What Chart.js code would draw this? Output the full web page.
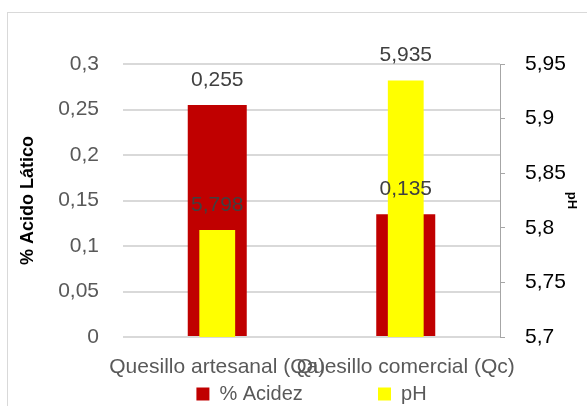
<!DOCTYPE html>
<html>
<head>
<meta charset="utf-8">
<script src="https://cdn.jsdelivr.net/npm/chart.js@4.4.1/dist/chart.umd.min.js"></script>
<style>
  html, body { margin: 0; padding: 0; background: #fff; }
</style>
</head>
<body>
<canvas id="grafico" width="587" height="406"></canvas>
<script>
const categorias = ['Quesillo artesanal (Qa)', 'Quesillo comercial (Qc)'];
const acidez = [0.255, 0.135]; // % ácido láctico
const ph = [5.798, 5.935];
const ticksAcidez = [0, 0.05, 0.1, 0.15, 0.2, 0.25, 0.3];
const ticksPh = [5.7, 5.75, 5.8, 5.85, 5.9, 5.95];

const FONTE = '"Liberation Sans", Arial, sans-serif';
const coma = v => String(Number(v.toFixed(3))).replace('.', ',');

// borde exterior del gráfico
const borde = {
  id: 'borde',
  beforeDraw(chart) {
    const ctx = chart.ctx;
    ctx.save();
    ctx.strokeStyle = '#d9d9d9';
    ctx.lineWidth = 1;
    ctx.strokeRect(7.5, 12.5, 700, 500);
    ctx.restore();
  }
};

// altura fija para la leyenda
const alturaLeyenda = {
  id: 'alturaLeyenda',
  afterInit(chart) {
    const lg = chart.legend;
    if (!lg) return;
    const fit = lg.fit.bind(lg);
    lg.fit = function () { fit(); this.height = 25; };
  }
};

// etiquetas de datos encima de las barras
const etiquetas = {
  id: 'etiquetas',
  afterDatasetsDraw(chart) {
    const ctx = chart.ctx;
    ctx.save();
    ctx.font = '21px ' + FONTE;
    ctx.fillStyle = '#404040';
    ctx.textAlign = 'center';
    ctx.textBaseline = 'middle';
    [0, 1].forEach(i => {
      const meta = chart.getDatasetMeta(i);
      meta.data.forEach((bar, j) => {
        const v = chart.data.datasets[i].data[j];
        ctx.fillText(coma(v), bar.x, bar.y - 25);
      });
    });
    ctx.restore();
  }
};

new Chart(document.getElementById('grafico'), {
  type: 'bar',
  data: {
    labels: categorias,
    datasets: [{
      label: '% Acidez',
      data: acidez,
      backgroundColor: '#C00000',
      yAxisID: 'y',
      grouped: false,
      order: 2,
      categoryPercentage: 1,
      barPercentage: 0.313
    }, {
      label: 'pH',
      data: ph,
      backgroundColor: '#FFFF00',
      yAxisID: 'y2',
      grouped: false,
      order: 1,
      categoryPercentage: 1,
      barPercentage: 0.19
    }]
  },
  options: {
    responsive: false,
    animation: false,
    devicePixelRatio: 1,
    layout: { padding: { top: 64, right: 0, left: 0, bottom: 0 } },
    plugins: {
      tooltip: { enabled: false },
      legend: {
        position: 'bottom',
        fullSize: false,
        labels: {
          boxWidth: 13,
          boxHeight: 13,
          padding: 3,
          color: '#595959',
          font: { family: FONTE, size: 20 },
          generateLabels: chart => {
            const items = Chart.defaults.plugins.legend.labels.generateLabels(chart);
            items.sort((a, b) => a.datasetIndex - b.datasetIndex);
            items[0].text += ' '.repeat(13); // separación entre entradas
            return items;
          }
        }
      }
    },
    scales: {
      x: {
        grid: { display: false, drawTicks: false },
        border: { display: false },
        ticks: {
          autoSkip: false,
          maxRotation: 0,
          padding: 18,
          color: '#595959',
          font: { family: FONTE, size: 21 }
        },
        afterFit: s => { s.height = 44; }
      },
      y: {
        position: 'left',
        min: 0,
        max: 0.3,
        afterBuildTicks: s => { s.ticks = ticksAcidez.map(v => ({ value: v })); },
        grid: { color: '#d9d9d9', lineWidth: 2, drawTicks: false },
        border: { display: false },
        ticks: {
          padding: 24,
          color: '#595959',
          font: { family: FONTE, size: 21 },
          callback: v => coma(v)
        },
        title: {
          display: true,
          text: '% Acido Lático',
          color: '#000',
          padding: { top: 17 },
          font: { family: FONTE, size: 18, weight: 'bold' }
        },
        afterFit: s => { s.width = 123; }
      },
      y2: {
        position: 'right',
        min: 5.7,
        max: 5.95,
        afterBuildTicks: s => { s.ticks = ticksPh.map(v => ({ value: v })); },
        grid: { drawOnChartArea: false, color: '#a6a6a6', tickLength: 5 },
        border: { display: true, color: '#a6a6a6', width: 1 },
        ticks: {
          padding: 20,
          color: '#000',
          font: { family: FONTE, size: 21 },
          callback: v => coma(v)
        },
        title: {
          display: true,
          text: 'pH',
          color: '#000',
          padding: { top: 8 },
          font: { family: FONTE, size: 13, weight: 'bold' }
        },
        afterFit: s => { s.width = 87; }
      }
    }
  },
  plugins: [borde, alturaLeyenda, etiquetas]
});
</script>
</body>
</html>
